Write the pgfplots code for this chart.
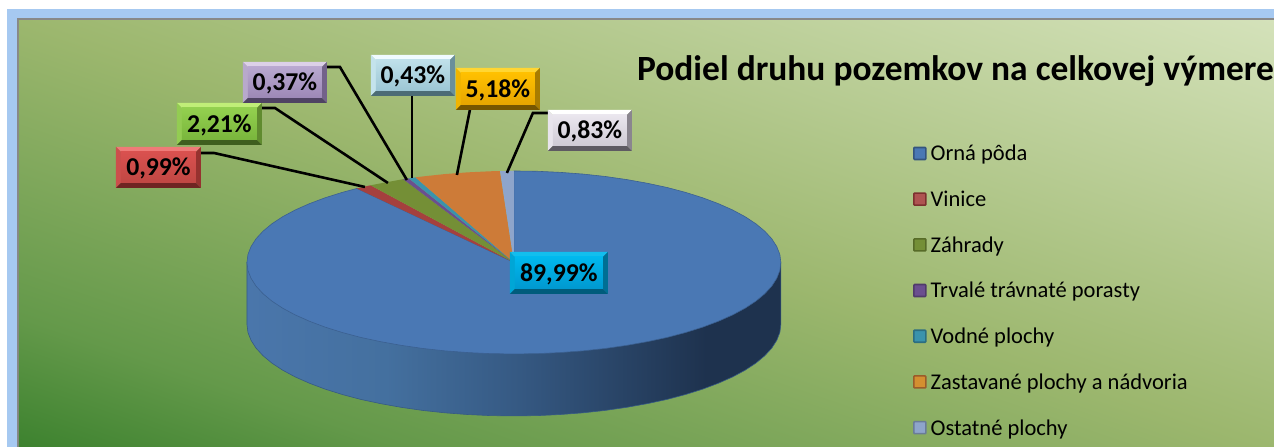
\documentclass[border=0pt]{standalone}
\usepackage{fontspec}
\setmainfont{Carlito}
\usepackage{pgfplots}
\pgfplotsset{compat=1.18}
\definecolor{bgA}{HTML}{367E2A}\definecolor{bgB}{HTML}{64994A}\definecolor{bgC}{HTML}{9CB76E}\definecolor{bgD}{HTML}{D7E4BE}
\pgfdeclareverticalshading{bgsh}{100bp}{color(0bp)=(bgA); color(16.6bp)=(bgA); color(28bp)=(bgB); color(50bp)=(bgC); color(83.4bp)=(bgD); color(100bp)=(bgD)}
\definecolor{sdA}{HTML}{4A76AB}\definecolor{sdB}{HTML}{44709F}\definecolor{sdC}{HTML}{365A84}\definecolor{sdD}{HTML}{1E324E}
\pgfdeclarehorizontalshading{sidesh}{100bp}{color(0bp)=(sdA); color(25bp)=(sdA); color(38bp)=(sdB); color(50bp)=(sdC); color(68bp)=(sdD); color(75bp)=(sdD); color(100bp)=(sdD)}
\definecolor{frameblue}{HTML}{A6C9F1}\definecolor{framegray}{HTML}{888888}
\newcommand{\boxcols}[7]{%
  \definecolor{#1T}{HTML}{#2}\definecolor{#1L}{HTML}{#3}\definecolor{#1R}{HTML}{#4}\definecolor{#1B}{HTML}{#5}\definecolor{#1I}{HTML}{#6}\definecolor{#1J}{HTML}{#7}}
\boxcols{red}{EF7B78}{CC4F4C}{96322F}{6F2422}{D9514F}{C04743}
\boxcols{grn}{C0EE78}{93CC52}{608B2F}{3F5E1F}{93D04F}{79B53C}
\boxcols{pur}{DCD0E8}{B8A9CC}{73628A}{4F4363}{B9A8D0}{9C88B6}
\boxcols{wat}{F0FBFF}{C4E3EC}{6A8F9B}{4C6C76}{BFE0EA}{9CC6D4}
\boxcols{yel}{FFD633}{F0B400}{A87C00}{765600}{FFC000}{E6A500}
\boxcols{wht}{FFFFFF}{E8E4EC}{8A858F}{5E5A62}{EAE6EE}{CFCAD4}
\boxcols{cya}{12BEEE}{00A6D6}{006F94}{005C7C}{00B8EE}{0098CF}
\newcommand{\bevel}[8]{%
  \def\bevelrest##1##2##3##4{%
  \fill[##3T] (axis cs:#1,#2)--(axis cs:#3,#2)--(axis cs:#7,#6)--(axis cs:#5,#6)--cycle;
  \fill[##3L] (axis cs:#1,#2)--(axis cs:#5,#6)--(axis cs:#5,#8)--(axis cs:#1,#4)--cycle;
  \fill[##3R] (axis cs:#3,#2)--(axis cs:#7,#6)--(axis cs:#7,#8)--(axis cs:#3,#4)--cycle;
  \fill[##3B] (axis cs:#1,#4)--(axis cs:#5,#8)--(axis cs:#7,#8)--(axis cs:#3,#4)--cycle;
  \shade[top color=##3I,middle color=##3I!75!white,bottom color=##3J] (axis cs:#5,#6) rectangle (axis cs:#7,#8);
  \node[font=\fontsize{25.8}{30}\selectfont\bfseries,text=black,inner sep=0pt] at (axis cs:##1,##2) {##4};}%
  \bevelrest}
\pgfplotsset{leader/.style={black,line width=2.6bp,forget plot,no markers}}
\pgfplotsset{legsq/.style 2 args={legend image code/.code={\draw[fill=#1,draw=#2,line width=1.6bp,rounded corners=0.8bp] (0.8bp,-2.6bp) rectangle (12.8bp,9.4bp);}}}
\definecolor{cBlue}{HTML}{4A78B4}\definecolor{cRed}{HTML}{A5403E}\definecolor{cGreen}{HTML}{748F36}\definecolor{cPurple}{HTML}{6B4F8F}\definecolor{cTeal}{HTML}{3A93AC}\definecolor{cOrange}{HTML}{CD7B38}\definecolor{cLight}{HTML}{8EA5CB}
\begin{document}
\begin{tikzpicture}
\begin{axis}[scale only axis,width=1274bp,height=447bp,xmin=0,xmax=1274,ymin=0,ymax=447,y dir=reverse,hide axis,clip=false,
  legend cell align=left,
  legend style={at={(axis cs:913,146.5)},anchor=north west,draw=none,fill=none,inner sep=0pt,row sep=25.5bp,column sep=4bp,
    font=\fontsize{22.6}{26}\selectfont,
    nodes={inner sep=0pt,text height=14bp,text depth=6bp,anchor=west}},
  ]
\fill[white] (axis cs:0,0) rectangle (axis cs:1274,447);
\fill[frameblue] (axis cs:7,9) rectangle (axis cs:1274,447);
\fill[framegray] (axis cs:17,18.5) rectangle (axis cs:1274,447);
\shade[shading=bgsh,shading angle=-18.8] (axis cs:19,21) rectangle (axis cs:1274,447);
% side of the pie
\addplot[forget plot,shading=sidesh,draw=sdC,line width=0.6bp] coordinates {(781,262.5)(781,324.5)(780.0,332.5)(776.9,340.4)(771.9,348.2)(764.9,355.8)(756.0,363.2)(745.2,370.3)(732.7,377.0)(718.5,383.3)(702.8,389.2)(685.6,394.6)(667.1,399.5)(647.5,403.7)(626.8,407.4)(605.3,410.5)(583.1,412.9)(560.4,414.6)(537.3,415.7)(514,416)(490.7,415.7)(467.6,414.6)(444.9,412.9)(422.7,410.5)(401.2,407.4)(380.5,403.7)(360.9,399.5)(342.4,394.6)(325.2,389.2)(309.5,383.3)(295.3,377.0)(282.8,370.3)(272.0,363.2)(263.1,355.8)(256.1,348.2)(251.1,340.4)(248.0,332.5)(247,324.5)(247,262.5)} --cycle;
% Orna poda 89.99 %
\addplot[fill=cBlue,draw=cBlue!80!black,line width=0.6bp,legsq={cBlue}{cBlue!70!black}] coordinates {(514,262.5)(514,171.0)(537.3,171.3)(560.4,172.4)(583.1,174.1)(605.3,176.5)(626.8,179.6)(647.5,183.3)(667.1,187.5)(685.6,192.4)(702.8,197.8)(718.5,203.7)(732.7,210.0)(745.2,216.7)(756.0,223.8)(764.9,231.2)(771.9,238.8)(776.9,246.6)(780.0,254.5)(781,262.5)(780.0,270.5)(776.9,278.4)(771.9,286.2)(764.9,293.8)(756.0,301.2)(745.2,308.3)(732.7,315.0)(718.5,321.3)(702.8,327.2)(685.6,332.6)(667.1,337.5)(647.5,341.7)(626.8,345.4)(605.3,348.5)(583.1,350.9)(560.4,352.6)(537.3,353.7)(514,354.0)(490.7,353.7)(467.6,352.6)(444.9,350.9)(422.7,348.5)(401.2,345.4)(380.5,341.7)(360.9,337.5)(342.4,332.6)(325.2,327.2)(309.5,321.3)(295.3,315.0)(282.8,308.3)(272.0,301.2)(263.1,293.8)(256.1,286.2)(251.1,278.4)(248.0,270.5)(247,262.5)(248.0,254.5)(251.1,246.6)(256.1,238.8)(263.1,231.2)(272.0,223.8)(282.8,216.7)(295.3,210.0)(309.5,203.7)(325.2,197.8)(342.4,192.4)(356.9,188.5)} --cycle;
\addlegendentry{Orná pôda}
% Vinice 0.99 %
\addplot[fill=cRed,draw=none,legsq={cRed!90!white}{cRed!75!black}] coordinates {(514,262.5)(356.9,188.5)(370.6,185.3)} --cycle;
\addlegendentry{Vinice}
% Zahrady 2.21 %
\addplot[fill=cGreen,draw=none,legsq={cGreen}{cGreen!75!black}] coordinates {(514,262.5)(370.6,185.3)(403.2,179.2)} --cycle;
\addlegendentry{Záhrady}
% Trvale travnate porasty 0.37 %
\addplot[fill=cPurple,draw=none,legsq={cPurple}{cPurple!75!black}] coordinates {(514,262.5)(403.2,179.2)(408.9,178.4)} --cycle;
\addlegendentry{Trvalé trávnaté porasty}
% Vodne plochy 0.43 %
\addplot[fill=cTeal,draw=none,legsq={cTeal}{cTeal!75!black}] coordinates {(514,262.5)(408.9,178.4)(415.5,177.4)} --cycle;
\addlegendentry{Vodné plochy}
% Zastavane plochy 5.18 %
\addplot[fill=cOrange,draw=none,legsq={cOrange!85!yellow}{cOrange!75!black}] coordinates {(514,262.5)(415.5,177.4)(422.7,176.5)(444.9,174.1)(467.6,172.4)(490.7,171.3)(500.1,171.1)} --cycle;
\addlegendentry{Zastavané plochy a nádvoria}
% Ostatne plochy 0.83 %
\addplot[fill=cLight,draw=none,legsq={cLight}{cLight!75!black}] coordinates {(514,262.5)(500.1,171.1)(514,171)} --cycle;
\addlegendentry{Ostatné plochy}
% leaders
\addplot[leader] coordinates {(201,153)(214,153)(365,187)};
\addplot[leader] coordinates {(262,108)(275,108)(388,183)};
\addplot[leader] coordinates {(327,67)(340,67)(407,180)};
\addplot[leader] coordinates {(412,96)(412,178)};
\addplot[leader] coordinates {(470,110)(457,175)};
\addplot[leader] coordinates {(548,113)(533,113)(507,173)};
\node[anchor=west,inner sep=0pt,text=black,font=\fontsize{35.6}{42}\selectfont\bfseries] at (axis cs:637,71) {Podiel druhu pozemkov na celkovej výmere};
\bevel{116}{147}{201}{188}{121}{152}{196}{183}{158.5}{168.5}{red}{0,99\%}
\bevel{177}{103}{262}{145}{182}{108}{257}{140}{219.5}{125}{grn}{2,21\%}
\bevel{243}{62}{327}{103}{248}{67}{322}{98}{285}{83.5}{pur}{0,37\%}
\bevel{371}{55}{455}{96}{376}{60}{450}{91}{413}{76.5}{wat}{0,43\%}
\bevel{456}{68}{540}{110}{461}{73}{535}{105}{498}{90}{yel}{5,18\%}
\bevel{548}{110}{632}{151}{553}{115}{627}{146}{590}{131.5}{wht}{0,83\%}
\bevel{510}{252}{608}{294}{515}{257}{603}{289}{559}{274}{cya}{89,99\%}
\end{axis}
\end{tikzpicture}
\end{document}
